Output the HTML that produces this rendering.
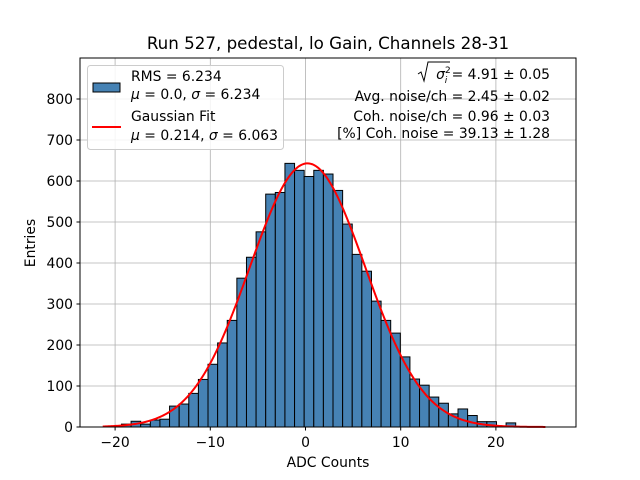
<!DOCTYPE html>
<html><head><meta charset="utf-8"><style>
body{margin:0;background:#fff;}
svg{display:block;font-family:"DejaVu Sans","Liberation Sans",sans-serif;}
</style></head><body>
<svg id="chart" width="640" height="480" viewBox="0 0 640 480">
<rect width="640" height="480" fill="#fff"/>
<text x="328" y="49" font-size="16.7" text-anchor="middle">Run 527, pedestal, lo Gain, Channels 28-31</text>
<g id="grid"></g>
<g id="bars"></g>
<path id="fit" fill="none" stroke="red" stroke-width="2"/>
<rect x="80" y="58" width="496" height="369" fill="none" stroke="#000" stroke-width="1"/>
<g id="ticks" font-size="13.9"></g>
<text x="328" y="467" font-size="13.9" text-anchor="middle">ADC Counts</text>
<text transform="translate(35,243) rotate(-90)" font-size="13.9" text-anchor="middle">Entries</text>
<g>
<rect x="87.5" y="65.5" width="196" height="84" rx="3" fill="#fff" fill-opacity="0.85" stroke="#ccc"/>
<rect x="93" y="83" width="27" height="9" fill="steelblue" stroke="#000"/>
<text x="131" y="81" font-size="13.9">RMS = 6.234</text>
<text x="131" y="99" font-size="13.9"><tspan font-style="italic">μ</tspan> = 0.0, <tspan font-style="italic">σ</tspan> = 6.234</text>
<line x1="92" y1="127" x2="121" y2="127" stroke="red" stroke-width="2"/>
<text x="131" y="121" font-size="13.9">Gaussian Fit</text>
<text x="131" y="140" font-size="13.9"><tspan font-style="italic">μ</tspan> = 0.214, <tspan font-style="italic">σ</tspan> = 6.063</text>
</g>
<g font-size="13.9" text-anchor="end">
<path d="M418,74 L421,72 L424,81 L428,62 L450,62" fill="none" stroke="#000" stroke-width="1"/>
<text x="550" y="79"><tspan font-style="italic">σ</tspan><tspan font-size="9" dy="-6">2</tspan><tspan font-size="9" font-style="italic" dx="-6" dy="10">i</tspan><tspan dy="-4"> = 4.91 ± 0.05</tspan></text>
<text x="550" y="101">Avg. noise/ch = 2.45 ± 0.02</text>
<text x="550" y="121">Coh. noise/ch = 0.96 ± 0.03</text>
<text x="550" y="138">[%] Coh. noise = 39.13 ± 1.28</text>
</g>
</svg>
<script>
const counts=[7,14,7,17,19,51,56,82,116,153,205,260,363,414,476,568,572,643,626,611,626,617,577,495,421,380,307,260,229,171,117,102,73,58,32,44,28,13,13,0,10];
const binStart=[-19.33];
const binWidth=[1.01];
const fitParams=[643,0.214,6.063];
const fitRange=[-21.3,25.2];
const xTicks=[-20,-10,0,10,20];
const yTicks=[0,100,200,300,400,500,600,700,800];
const NS='http://www.w3.org/2000/svg';
const X=v=>305.5+v*9.52;
const Y=v=>427-v*0.41;
const mk=(t,a,p)=>{const e=document.createElementNS(NS,t);for(const k in a)e.setAttribute(k,a[k]);p.appendChild(e);return e;};
const grid=document.getElementById('grid'),ticks=document.getElementById('ticks'),bars=document.getElementById('bars');
xTicks.forEach(t=>{
 const g=mk('line',{x1:X(t),x2:X(t),y1:58,y2:427,stroke:'#b0b0b0','stroke-width':0.8},grid);
 
 
 mk('line',{x1:X(t),x2:X(t),y1:427,y2:430.5,stroke:'#000'},ticks);
 const l=mk('text',{x:X(t),y:447,'text-anchor':'middle'},ticks);
 l.textContent=(t<0?'\u2212'+(-t):t);
 
 
});
yTicks.forEach(t=>{
 const g=mk('line',{x1:80,x2:576,y1:Y(t),y2:Y(t),stroke:'#b0b0b0','stroke-width':0.8},grid);
 
 
 mk('line',{x1:76.5,x2:80,y1:Y(t),y2:Y(t),stroke:'#000'},ticks);
 const l=mk('text',{x:73,y:Y(t)+5,'text-anchor':'end'},ticks);
 l.textContent=t;
 
 
});
counts.forEach((c,i)=>{
 if(c<=0)return;
 const x0=X(binStart[0]+i*binWidth[0]),x1=X(binStart[0]+(i+1)*binWidth[0]);
 const r=mk('rect',{x:x0,y:Y(c),width:x1-x0,height:Y(0)-Y(c),fill:'steelblue',stroke:'#000','stroke-width':1},bars);
 
 
});
let d='';
for(let i=0;i<=300;i++){
 const v=fitRange[0]+(fitRange[1]-fitRange[0])*i/300;
 const y=fitParams[0]*Math.exp(-0.5*Math.pow((v-fitParams[1])/fitParams[2],2));
 d+=(i?'L':'M')+X(v).toFixed(2)+','+Y(y).toFixed(2);
}
document.getElementById('fit').setAttribute('d',d);
</script>
</body></html>
